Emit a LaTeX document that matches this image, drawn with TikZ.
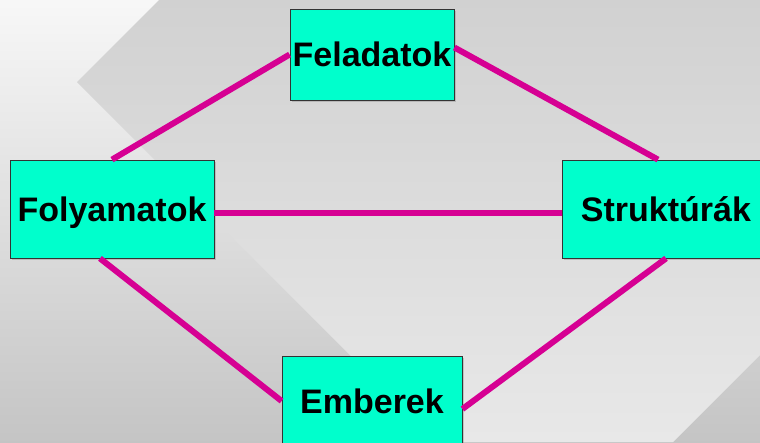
\documentclass[tikz,border=0pt]{standalone}
\usepackage{fontspec}
\setmainfont{Liberation Sans}
\usetikzlibrary{shadows}
\definecolor{boxgreen}{RGB}{0,255,204}
\definecolor{linkpink}{RGB}{214,0,147}
\tikzset{topic/.style={draw=black!80, line width=0.8pt, fill=boxgreen,
  drop shadow={shadow xshift=1.5pt, shadow yshift=-1.5pt, opacity=0.35},
  font=\fontsize{34}{34}\selectfont\bfseries, text height=24pt, text depth=0pt,
  inner sep=0pt, align=center}}
\tikzset{link/.style={linkpink, line width=6pt}}

\begin{document}
\begin{tikzpicture}[x=1pt, y=-1pt]
      \useasboundingbox (0, 0) rectangle (760, 442);
      \clip (0, 0) rectangle (760, 442);

      % background
      \shade [top color=black!3, bottom color=black!23] (0, 0) rectangle (760, 442);
      \shade [top color=black!18, bottom color=black!9] (77, 82) -- (159, 0) -- (760, 0) -- (760, 355) -- (673, 442) -- (437, 442) -- cycle;

      \node [topic, minimum width=164pt, minimum height=91pt] (fel) at (372, 54.5) {Feladatok};
      \node [topic, minimum width=204pt, minimum height=98pt] (fol) at (112, 209) {Folyamatok};
      \node [topic, minimum width=208pt, minimum height=98pt] (str) at (666, 209) {Struktúrák};
      \node [topic, minimum width=180pt, minimum height=90pt] (emb) at (372, 401) {Emberek};

      \draw [link] (fel.west) -- (fol.north);
      \draw [link] ([yshift=7pt]fel.east) -- ([xshift=-8pt]str.north);
      \draw [link] ([yshift=-4pt]fol.east) -- ([yshift=-4pt]str.west);
      \draw [link] ([xshift=-12pt]fol.south) -- (emb.west);
      \draw [link] (str.south) -- ([yshift=-8pt]emb.east);
    \end{tikzpicture}
\end{document}
